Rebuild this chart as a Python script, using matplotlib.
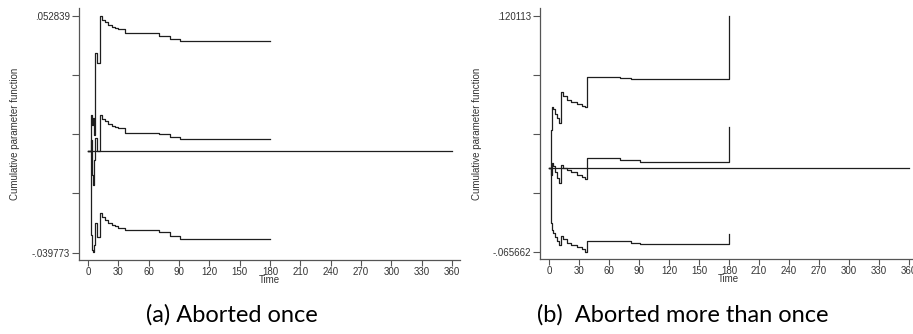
import numpy as np
import matplotlib
matplotlib.use('Agg')
import matplotlib.pyplot as plt

# panel (a): aborted once
t_a = [0, 3, 4, 5, 6, 7, 9, 12, 14, 17, 20, 24, 27, 30, 37, 70, 81, 91, 180]
upper_a = [0, 0.01415, 0.01024, 0.01297, 0.00633, 0.03837, 0.03447, 0.05284, 0.05127, 0.05049,
           0.04932, 0.04853, 0.04814, 0.04775, 0.04619, 0.04502, 0.04384, 0.04306, 0.04306]
mid_a = [0, 0.00438, -0.00930, -0.01321, -0.00344, 0.00516, 0.0, 0.01415, 0.01258, 0.01180,
         0.01063, 0.00985, 0.00946, 0.00907, 0.00723, 0.00672, 0.00528, 0.00465, 0.00465]
lower_a = [0, -0.03275, -0.03861, -0.03939, -0.03665, -0.02806, -0.03353, -0.02415, -0.02571, -0.02688,
           -0.02806, -0.02884, -0.02923, -0.03001, -0.03079, -0.03185, -0.03341, -0.03431, -0.03431]
ymin_a, ymax_a = -0.039773, 0.052839
ylabels_a = ['-.039773', '', '', '', '.052839']

# panel (b): aborted more than once
t_b = [0, 2, 3, 4, 6, 8, 10, 12, 14, 18, 22, 28, 33, 36, 38, 71, 82, 91, 180]
upper_b = [0, 0.03039, 0.04849, 0.0467, 0.0431, 0.0395, 0.0359, 0.0603, 0.05715, 0.0540,
           0.05243, 0.05085, 0.04928, 0.04849, 0.07211, 0.07132, 0.07053, 0.07053, 0.120113]
mid_b = [0, -0.00504, 0.00441, 0.002, -0.003, -0.008, -0.01134, 0.00283, 0.0005, -0.0011,
         -0.003, -0.00504, -0.0066, -0.00819, 0.00834, 0.00677, 0.00677, 0.00520, 0.03275]
lower_b = [0, -0.04282, -0.04833, -0.0510, -0.0540, -0.0570, -0.0602, -0.05306, -0.0555, -0.0587,
           -0.0602, -0.0618, -0.06329, -0.06565, -0.05699, -0.05699, -0.05857, -0.05935, -0.05148]
ymin_b, ymax_b = -0.065662, 0.120113
ylabels_b = ['-.065662', '', '', '', '.120113']

zero_t = [0, 360]
zero_v = [0, 0]
xticks = list(range(0, 361, 30))
captions = ['(a) Aborted once', '(b)  Aborted more than once']

fig = plt.figure(figsize=(9.13, 3.34), dpi=100)
ax_a = fig.add_axes([79 / 913, 74 / 334, 381 / 913, 252 / 334])
ax_b = fig.add_axes([540 / 913, 75 / 334, 377 / 913, 251 / 334])

tick_font = ['Liberation Sans Narrow', 'Liberation Sans', 'DejaVu Sans']
line_col = '#1e1e1e'
axis_col = '#555555'

panels = [
    (ax_a, t_a, upper_a, mid_a, lower_a, ymin_a, ymax_a, ylabels_a, (-8.9, 368)),
    (ax_b, t_b, upper_b, mid_b, lower_b, ymin_b, ymax_b, ylabels_b, (-9, 368)),
]

for ax, t, up, mid, lo, ymin, ymax, ylabs, xl in panels:
    for series in (up, mid, lo):
        ax.plot(t, series, drawstyle='steps-post', color=line_col, lw=0.9)
    ax.plot(zero_t, zero_v, color=line_col, lw=0.9)

    step = (ymax - ymin) / 4
    ax.set_ylim(ymin - step * 0.125, ymax + step * 0.135)
    ax.set_xlim(*xl)
    ax.set_yticks(np.linspace(ymin, ymax, 5))
    ax.set_yticklabels(ylabs, fontsize=7, family=['Liberation Sans', 'DejaVu Sans'], color='#333333')
    ax.set_xticks(xticks)
    ax.set_xticklabels([str(v) for v in xticks], fontsize=7, family=tick_font, color='#333333')

    for side in ('top', 'right'):
        ax.spines[side].set_visible(False)
    for side in ('left', 'bottom'):
        ax.spines[side].set_color(axis_col)
        ax.spines[side].set_linewidth(0.9)
    ax.tick_params(axis='y', length=5, width=0.8, color=axis_col, pad=1.5)
    ax.tick_params(axis='x', length=4, width=0.8, color=axis_col, pad=1)

    ax.set_xlabel('Time', fontsize=7, family=['Liberation Sans', 'DejaVu Sans'], color='#333333')
    ax.xaxis.set_label_coords(0.5, -0.06)
    ax.set_ylabel('Cumulative parameter function', fontsize=7,
                  family=['Liberation Sans', 'DejaVu Sans'], color='#333333')
    ax.yaxis.set_label_coords(-0.155, 0.5)

fig.text(232 / 913, 1 - 315 / 334, captions[0], fontsize=17, family=['Lato', 'DejaVu Sans'],
         ha='center', va='center')
fig.text(683 / 913, 1 - 315 / 334, captions[1], fontsize=17, family=['Lato', 'DejaVu Sans'],
         ha='center', va='center')

fig.savefig('out.png', dpi=100, facecolor='white')
